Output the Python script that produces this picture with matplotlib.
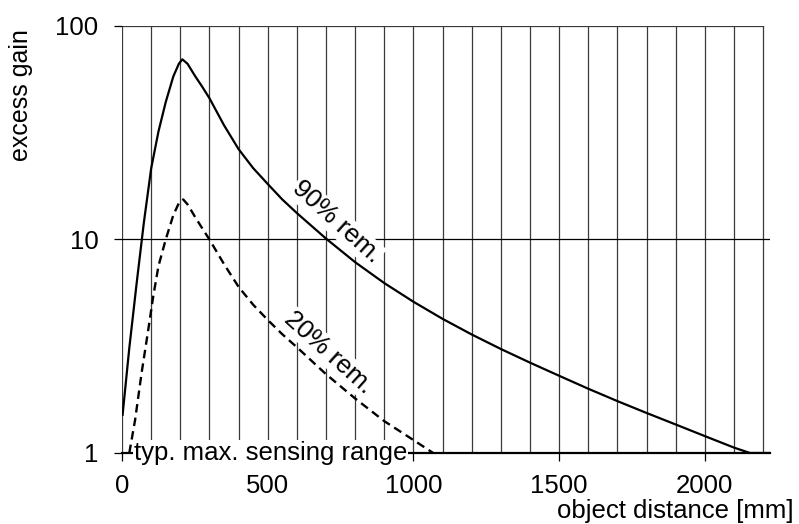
import numpy as np
import matplotlib.pyplot as plt

plt.rcParams['font.family'] = ['Liberation Sans', 'DejaVu Sans']

# 90% remission curve (mm, excess gain)
dist_90 = [2, 25, 50, 75, 100, 125, 150, 176, 195, 207, 225, 250, 275, 300,
           350, 400, 450, 500, 550, 600, 700, 800, 900, 1000, 1100, 1200,
           1300, 1400, 1500, 1600, 1700, 1800, 1900, 2000, 2100, 2155, 2225]
gain_90 = [1.51, 3.1, 6.2, 12.0, 21.5, 32.0, 44.0, 58.0, 66.5, 69.8, 66.5,
           58.5, 52.0, 45.9, 34.3, 26.5, 21.6, 18.2, 15.4, 13.3, 10.1, 7.83,
           6.25, 5.11, 4.25, 3.59, 3.07, 2.65, 2.30, 2.00, 1.75, 1.54, 1.36,
           1.20, 1.06, 1.0, 1.0]

# 20% remission curve
dist_20 = [25, 45, 67, 90, 107, 125, 150, 176, 195, 210, 225, 250, 275, 300,
           350, 400, 450, 500, 550, 600, 700, 800, 900, 1000, 1068]
gain_20 = [1.0, 1.43, 2.36, 3.77, 5.4, 7.5, 10.0, 13.0, 14.8, 15.4, 14.6,
           12.8, 11.3, 10.0, 7.67, 6.0, 4.95, 4.2, 3.6, 3.13, 2.34, 1.80,
           1.41, 1.15, 1.0]

x_ticks = [0, 500, 1000, 1500, 2000]
y_ticks = [1, 10, 100]
y_tick_labels = ['1', '10', '100']

fig = plt.figure(figsize=(7.99, 5.24), dpi=100)
ax = fig.add_axes([0.1527, 0.1355, 0.8115, 0.8149])

ax.set_yscale('log')
ax.set_xlim(0, 2225)
ax.set_ylim(1, 100)

# grid
for gx in range(0, 2201, 100):
    ax.plot([gx, gx], [1, 100], color='#3a3a3a', lw=0.9, zorder=1)
ax.plot([0, 2200], [100, 100], color='#3a3a3a', lw=0.9, zorder=1)
ax.plot([0, 2225], [10, 10], color='black', lw=0.9, zorder=1)

ax.plot(dist_90, gain_90, color='black', lw=1.6, zorder=3)
ax.plot(dist_20, gain_20, color='black', lw=1.7, ls=(0, (3.6, 2.2)), zorder=3)

for s in ['top', 'right', 'left']:
    ax.spines[s].set_visible(False)
ax.spines['bottom'].set_linewidth(1.6)
ax.spines['bottom'].set_zorder(4)

ax.set_xticks(x_ticks)
ax.set_yticks(y_ticks)
ax.set_yticklabels(y_tick_labels)
ax.minorticks_off()
ax.tick_params(axis='both', direction='out', length=6, width=0.9,
               labelsize=18.5, color='black')
ax.tick_params(axis='y', pad=11)
ax.tick_params(axis='x', pad=9)

box = dict(facecolor='white', edgecolor='none', pad=1)
ax.text(735, 12.1, '90% rem.', fontsize=18.5, rotation=-42, ha='center',
        va='center', bbox=box, zorder=5)
ax.text(710, 2.94, '20% rem.', fontsize=18.5, rotation=-42, ha='center',
        va='center', bbox=box, zorder=5)
ax.text(40, 1.0, 'typ. max. sensing range', fontsize=18.5, ha='left',
        va='center', bbox=dict(facecolor='white', edgecolor='none', pad=0.5),
        zorder=5)

fig.text(0.026, 0.945, 'excess gain', fontsize=18, rotation=90,
         ha='center', va='top')
fig.text(0.993, 0.025, 'object distance [mm]', fontsize=18.5, ha='right',
         va='center')

fig.savefig('out.png', dpi=100)
